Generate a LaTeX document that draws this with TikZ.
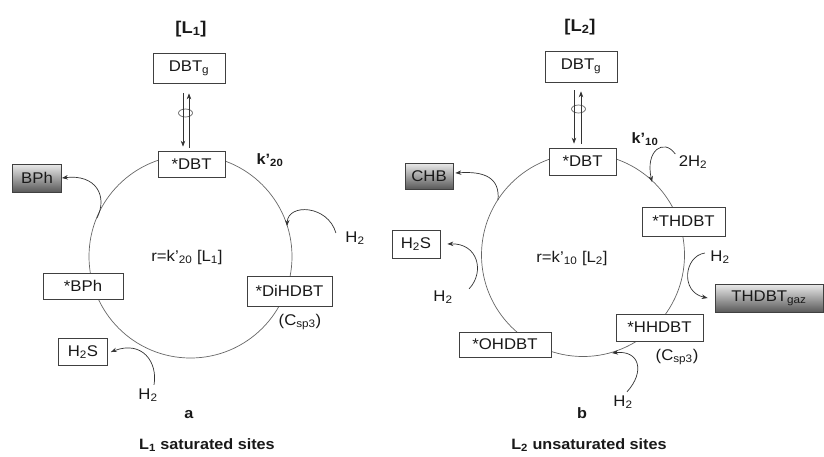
\documentclass[tikz,border=0pt]{standalone}
\usepackage{fontspec}
\setmainfont[FakeStretch=1.08]{Liberation Sans}
\usetikzlibrary{arrows.meta}

\tikzset{
  site/.style={draw=black!75, line width=0.7pt, fill=white, inner sep=1pt},
  prod/.style={draw=black!75, line width=0.7pt, top color=black!8, bottom color=black!65, inner sep=1pt},
  ring/.style={draw=black!60, line width=0.7pt},
  flow/.style={draw=black!80, line width=0.7pt, -{Stealth[length=6pt,width=4.5pt]}},
  head/.style={font=\fontsize{15}{17}\selectfont\bfseries},
  bighead/.style={font=\fontsize{17}{19}\selectfont\bfseries},
}

\begin{document}
\begin{tikzpicture}[x=1pt,y=-1pt,font=\fontsize{15.5}{17}\selectfont,text=black!90]

\useasboundingbox (0,0) rectangle (824,456);

\draw[ring] (190.5,256.5) circle (101.5pt);
\draw[ring] (583,255) circle (101.5pt);

\draw[ring] (185.5,113) ellipse (7pt and 4pt);
\draw[ring] (578.5,109) ellipse (7pt and 4pt);

\node[bighead] (Lone) at (191,29) {[L\textsubscript{1}]};
\node[site, minimum width=72, minimum height=30] (dbtgA) at (189,68) {DBT\textsubscript{g}};
\node[site, minimum width=67, minimum height=26] (dbtA) at (191.5,164) {*DBT};
\node[head] (kA) at (270,160) {k’\textsubscript{20}};
\node[prod, minimum width=49, minimum height=28] (bph) at (37,178) {BPh};
\node[site, minimum width=80, minimum height=26] (bphs) at (83,286) {*BPh};
\node[site, minimum width=49, minimum height=27] (h2sA) at (83,352) {H\textsubscript{2}S};
\node[site, minimum width=85, minimum height=30] (dihdbt) at (289.5,291) {*DiHDBT};
\node (cspA) at (300,322) {(C\textsubscript{sp3})};
\node (h2a) at (355,238) {H\textsubscript{2}};
\node (h2b) at (148,395) {H\textsubscript{2}};
\node (rA) at (187,257) {r=k’\textsubscript{20} [L\textsubscript{1}]};
\node[head] (labA) at (189,415) {a};
\node[head] (titA) at (207,445) {L\textsubscript{1} saturated sites};

\coordinate (pBPh) at (97,218);
\coordinate (pDi) at (287,226);

\draw[flow, shorten <=10pt, shorten >=4pt] ([shift={(-6,0)}]dbtgA.south) -- ([shift={(-6,0)}]dbtgA.south |- dbtA.north);
\draw[flow, shorten <=3pt, shorten >=10pt] (dbtgA.south |- dbtA.north) -- (dbtgA.south);
\draw[flow] (pBPh) .. controls (108,196) and (96,174) .. (bph.east);
\draw[flow] ([shift={(6,0)}]h2b.north) .. controls (158,362) and (142,340) .. ([shift={(3,0)}]h2sA.east);
\draw[flow] ([shift={(-6,-5)}]h2a.west) .. controls (328,205) and (288,203) .. (pDi);

\node[bighead] (Ltwo) at (580,27) {[L\textsubscript{2}]};
\node[site, minimum width=72, minimum height=31] (dbtgB) at (581,66.5) {DBT\textsubscript{g}};
\node[site, minimum width=67, minimum height=27] (dbtB) at (582.5,161.5) {*DBT};
\node[head] (kB) at (645,139) {k’\textsubscript{10}};
\node (h2c) at (693,162) {2H\textsubscript{2}};
\node[site, minimum width=83, minimum height=29] (thdbt) at (683.5,221.5) {*THDBT};
\node (h2d) at (720,257) {H\textsubscript{2}};
\node[prod, minimum width=108, minimum height=28] (gaz) at (769,298) {THDBT\textsubscript{gaz}};
\node[site, minimum width=87, minimum height=27] (hhdbt) at (659.5,327.5) {*HHDBT};
\node (cspB) at (677,357) {(C\textsubscript{sp3})};
\node (h2e) at (623,402) {H\textsubscript{2}};
\node[site, minimum width=92, minimum height=25] (ohdbt) at (505,344.5) {*OHDBT};
\node[prod, minimum width=48, minimum height=26] (chb) at (429,176) {CHB};
\node[site, minimum width=48, minimum height=28] (h2sB) at (416,244) {H\textsubscript{2}S};
\node (h2f) at (443,297) {H\textsubscript{2}};
\node (rB) at (572,258) {r=k’\textsubscript{10} [L\textsubscript{2}]};
\node[head] (labB) at (582,413) {b};
\node[head] (titB) at (589,445) {L\textsubscript{2} unsaturated sites};

\coordinate (pTh) at (652,182);
\coordinate (pOH) at (612,353);
\coordinate (pCHB) at (498,200);

\draw[flow, shorten <=8pt, shorten >=4pt] ([shift={(-7,0)}]dbtgB.south) -- ([shift={(-7,0)}]dbtgB.south |- dbtB.north);
\draw[flow, shorten <=4pt, shorten >=9pt] (dbtgB.south |- dbtB.north) -- (dbtgB.south);
\draw[flow] ([shift={(0,-8)}]h2c.west) .. controls (664,138) and (645,150) .. (pTh);
\draw[flow] ([shift={(-2,-4)}]h2d.west) .. controls (684,256) and (680,292) .. ([shift={(-7,0)}]gaz.west);
\draw[flow] ([shift={(4,0)}]h2e.north) .. controls (645,372) and (640,350) .. (pOH);
\draw[flow] ([shift={(13,2)}]h2f.north east) .. controls (485,272) and (478,243) .. ([shift={(7,0)}]h2sB.east);
\draw[flow] (pCHB) .. controls (500,178) and (485,171) .. ([shift={(2,-3)}]chb.east);

\end{tikzpicture}
\end{document}
